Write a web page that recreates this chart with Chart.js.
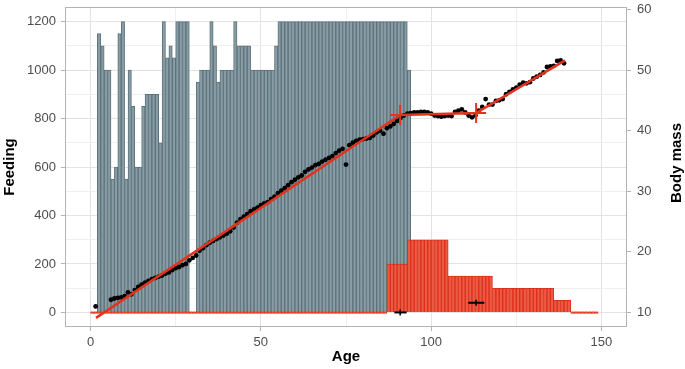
<!DOCTYPE html>
<html>
<head>
<meta charset="utf-8">
<script src="https://cdn.jsdelivr.net/npm/chart.js@4/dist/chart.umd.min.js"></script>
<style>
	html, body { margin: 0; padding: 0; background: #fff; }
	#wrap { width: 685px; height: 369px; }
</style>
</head>
<body>
<div id="wrap"><canvas id="chart" width="685" height="369"></canvas></div>
<script>
"use strict";

// Daily feeding (grey bars), one value per day starting at day 2 (null = no record)
const feedStart = 2;
const feedValues = [
	1150, 1100, 1000, 1000, 550, 600, 1150, 1200, 550, 1000,
	850, 600, 600, 850, 900, 900, 900, 900, 700, 1200,
	1050, 1100, 1050, 1200, 1200, 1200, 1200, null, null, 950,
	1000, 1000, 1000, 1200, 1100, 950, 1000, 1000, 1000, 1000,
	1200, 1100, 1100, 1100, 1100, 1000, 1000, 1000, 1000, 1000,
	1000, 1000, 1100, 1200, 1200, 1200, 1200, 1200, 1200, 1200,
	1200, 1200, 1200, 1200, 1200, 1200, 1200, 1200, 1200, 1200,
	1200, 1200, 1200, 1200, 1200, 1200, 1200, 1200, 1200, 1200,
	1200, 1200, 1200, 1200, 1200, 1200, 1200, 1200, 1200, 1200,
	1200, 1000,
];

// Second feeding series (red bars), one value per day starting at day 0
const redStart = 0;
const redValues = [
	0, 0, 0, 0, 0, 0, 0, 0, 0, 0, 0, 0, 0, 0, 0, 0, 0, 0, 0, 0,
	0, 0, 0, 0, 0, 0, 0, 0, 0, 0, 0, 0, 0, 0, 0, 0, 0, 0, 0, 0,
	0, 0, 0, 0, 0, 0, 0, 0, 0, 0, 0, 0, 0, 0, 0, 0, 0, 0, 0, 0,
	0, 0, 0, 0, 0, 0, 0, 0, 0, 0, 0, 0, 0, 0, 0, 0, 0, 0, 0, 0,
	0, 0, 0, 0, 0, 0, 0, 200, 200, 200, 200, 200, 200, 300, 300, 300, 300, 300, 300, 300,
	300, 300, 300, 300, 300, 150, 150, 150, 150, 150, 150, 150, 150, 150, 150, 150, 150, 150, 100, 100,
	100, 100, 100, 100, 100, 100, 100, 100, 100, 100, 100, 100, 100, 100, 100, 100, 50, 50, 50, 50,
	50, 0, 0, 0, 0, 0, 0, 0, 0,
];

// Body mass measurements (black points)
const massAges = [
	1.5, 6, 7, 8, 9, 10, 11, 12, 13, 14, 15, 16, 17, 18, 19, 20, 21, 22, 23, 24,
	25, 26, 27, 28, 29, 30, 31, 32, 33, 34, 35, 36, 37, 38, 39, 40, 41, 42, 43, 44,
	45, 46, 47, 48, 49, 50, 51, 52, 53, 54, 55, 56, 57, 58, 59, 60, 61, 62, 63, 64,
	65, 66, 67, 68, 69, 70, 71, 72, 73, 74, 75, 76, 77, 78, 79, 80, 81, 82, 83, 84,
	85, 86, 87, 88, 89, 90, 91, 92, 93, 94, 95, 96, 97, 98, 99, 100, 101, 102, 103, 104,
	105, 106, 107, 108, 109, 110, 111, 112, 113, 114, 115, 116, 117, 118, 119, 120, 121, 122, 123, 124,
	125, 126, 127, 128, 129, 130, 131, 132, 133, 134, 135, 136, 137, 138, 139,
];
const massValues = [
	11.0, 12.1, 12.3, 12.4, 12.5, 12.7, 13.3, 13.0, 13.7, 14.2, 14.6, 14.9, 15.2, 15.5, 15.7, 15.9, 16.1, 16.4, 16.6, 17.0,
	17.3, 17.5, 17.8, 18.0, 18.6, 19.0, 19.4, 20.2, 20.6, 21.1, 21.5, 21.8, 22.1, 22.4, 22.7, 23.0, 23.4, 24.0, 24.8, 25.4,
	25.8, 26.2, 26.7, 27.0, 27.3, 27.7, 28.0, 28.2, 28.7, 29.1, 29.7, 30.1, 30.5, 31.0, 31.5, 31.9, 32.3, 32.6, 33.2, 33.6,
	33.9, 34.3, 34.5, 34.9, 35.2, 35.5, 35.8, 36.3, 36.7, 37.0, 34.4, 37.6, 38.0, 38.3, 38.5, 38.6, 38.7, 38.8, 39.2, 39.7,
	40.0, 39.5, 40.4, 40.7, 41.1, 41.6, 42.1, 42.5, 42.8, 42.9, 43.0, 43.0, 43.1, 43.1, 43.0, 42.8, 42.5, 42.4, 42.3, 42.4,
	42.5, 42.4, 43.1, 43.3, 43.5, 43.0, 42.5, 42.2, 42.5, 43.3, 43.9, 45.2, 44.3, 44.3, 44.9, 45.0, 45.2, 46.0, 46.4, 46.8,
	47.1, 47.6, 47.9, 47.8, 48.0, 48.6, 48.9, 49.2, 49.6, 50.5, 50.6, 50.7, 51.5, 51.6, 51.1,
];

// Piecewise fit of body mass, breakpoints and their intervals
const fitAges = [1.6, 90.9, 113.2, 139.3];
const fitMass = [9.1, 42.6, 42.9, 51.6];
const breakAges = [90.9, 113.2];
const breakMass = [42.6, 42.9];
const breakLow = [89.2, 110.9];
const breakHigh = [92.8, 115.6];
const breakFeedLevel = [0, 40];

// Tick labels
const ageTicks = [0, 25, 50, 75, 100, 125, 150];
const feedTicks = [0, 100, 200, 300, 400, 500, 600, 700, 800, 900, 1000, 1100, 1200];
const massTicks = [10, 20, 30, 40, 50, 60];

const fontFamily = "'Liberation Sans', Arial, sans-serif";
const frameColor = "#b3b3b3";
const gridMajor = "#e3e3e3";
const gridMinor = "#efefef";
const tickText = "#4d4d4d";
const fitRed = "#e2331f";
const hidden = "rgba(0,0,0,0)";

function dailyBars(start, values) {
	return values
		.map(function (v, i) { return { x: start + i + 0.5, y: v }; })
		.filter(function (d) { return d.y !== null; });
}

const datasets = [
	{
		type: "bar",
		data: dailyBars(feedStart, feedValues),
		backgroundColor: "#889ca4",
		borderColor: "#5c727c",
		borderWidth: 1,
		barPercentage: 1,
		categoryPercentage: 1,
		grouped: false,
		yAxisID: "y",
		order: 6,
	},
	{
		type: "bar",
		data: dailyBars(redStart, redValues),
		backgroundColor: "#ec5a44",
		borderColor: "#dc301c",
		borderWidth: 1,
		barPercentage: 1,
		categoryPercentage: 1,
		grouped: false,
		minBarLength: 2,
		yAxisID: "y",
		order: 5,
	},
	{
		type: "line",
		data: massAges.map(function (a, i) { return { x: a, y: massValues[i] }; }),
		showLine: false,
		pointRadius: 2.4,
		pointBackgroundColor: "#000",
		pointBorderWidth: 0,
		yAxisID: "y2",
		order: 4,
	},
	{
		type: "line",
		data: fitAges.map(function (a, i) { return { x: a, y: fitMass[i] }; }),
		borderColor: fitRed,
		borderWidth: 2.5,
		pointRadius: 0,
		yAxisID: "y2",
		order: 3,
	},
	{
		type: "line",
		data: breakAges.map(function (a, i) { return { x: a, y: breakMass[i] }; }),
		showLine: false,
		pointStyle: "cross",
		pointRadius: 10,
		pointBorderColor: fitRed,
		pointBorderWidth: 2,
		yAxisID: "y2",
		order: 2,
	},
];

// Black interval bars for the breakpoints
breakAges.forEach(function (a, i) {
	datasets.push({
		type: "line",
		data: [
			{ x: breakLow[i], y: breakFeedLevel[i] },
			{ x: a, y: breakFeedLevel[i] },
			{ x: breakHigh[i], y: breakFeedLevel[i] },
		],
		borderColor: "#000",
		borderWidth: 2,
		pointStyle: "line",
		pointRotation: 90,
		pointRadius: [0, 3, 0],
		pointBorderColor: "#000",
		pointBorderWidth: 1.5,
		yAxisID: "y",
		order: 1,
	});
});

// Panel border on all four sides and the right-hand axis title (read bottom to top)
const frameAndTitle = {
	id: "frameAndTitle",
	afterDraw(chart) {
		const ctx = chart.ctx;
		const a = chart.chartArea;
		ctx.save();
		ctx.strokeStyle = frameColor;
		ctx.lineWidth = 1;
		ctx.strokeRect(a.left + 0.5, a.top + 0.5, a.right - a.left - 1, a.bottom - a.top - 1);
		ctx.translate(677, (a.top + a.bottom) / 2 - 4);
		ctx.rotate(-Math.PI / 2);
		ctx.font = "bold 15px " + fontFamily;
		ctx.fillStyle = "#000";
		ctx.textAlign = "center";
		ctx.textBaseline = "middle";
		ctx.fillText("Body mass", 0, 0);
		ctx.restore();
	},
};

function noVerticalPadding(s) {
	s.paddingTop = 0;
	s.paddingBottom = 0;
}

new Chart(document.getElementById("chart"), {
	type: "bar",
	data: { datasets: datasets },
	plugins: [frameAndTitle],
	options: {
		responsive: false,
		animation: false,
		layout: { autoPadding: false, padding: { top: 7, left: 0, right: 0, bottom: 0 } },
		plugins: { legend: { display: false }, tooltip: { enabled: false } },
		scales: {
			x: {
				type: "linear",
				min: -7.5,
				max: 157.5,
				offset: false,
				afterBuildTicks: function (s) { s.ticks = ageTicks.map(function (v) { return { value: v }; }); },
				afterFit: function (s) { s.height = 42; s.paddingLeft = 0; s.paddingRight = 0; },
				border: { display: false },
				grid: {
					offset: false,
					color: function (c) { return c.tick && c.tick.value % 50 === 0 ? gridMajor : gridMinor; },
					tickColor: function (c) { return c.tick && c.tick.value % 50 === 0 ? frameColor : hidden; },
					tickLength: 4,
				},
				ticks: {
					autoSkip: false,
					maxRotation: 0,
					padding: 4,
					color: tickText,
					font: { family: fontFamily, size: 13 },
					callback: function (v) { return v % 50 === 0 ? v : ""; },
				},
				title: {
					display: true,
					text: "Age",
					color: "#000",
					font: { family: fontFamily, size: 15, weight: "bold" },
					padding: { top: 0, bottom: 3 },
				},
			},
			y: {
				position: "left",
				min: -60,
				max: 1260,
				afterBuildTicks: function (s) { s.ticks = feedTicks.map(function (v) { return { value: v }; }); },
				afterFit: function (s) { s.width = 65; noVerticalPadding(s); },
				border: { display: false },
				grid: {
					color: function (c) { return c.tick && c.tick.value % 200 === 0 ? gridMajor : gridMinor; },
					tickColor: function (c) { return c.tick && c.tick.value % 200 === 0 ? frameColor : hidden; },
					tickLength: 4,
				},
				ticks: {
					autoSkip: false,
					padding: 5,
					color: tickText,
					font: { family: fontFamily, size: 13 },
					callback: function (v) { return v % 200 === 0 ? v : ""; },
				},
				title: {
					display: true,
					text: "Feeding",
					color: "#000",
					font: { family: fontFamily, size: 15, weight: "bold" },
					padding: { top: 1, bottom: 0 },
				},
			},
			y2: {
				position: "right",
				min: 7.6,
				max: 60.4,
				afterBuildTicks: function (s) { s.ticks = massTicks.map(function (v) { return { value: v }; }); },
				afterFit: function (s) { s.width = 58; noVerticalPadding(s); },
				border: { display: false },
				grid: { drawOnChartArea: false, tickColor: frameColor, tickLength: 4 },
				ticks: {
					autoSkip: false,
					padding: 6,
					color: tickText,
					font: { family: fontFamily, size: 13 },
				},
			},
		},
	},
});
</script>
</body>
</html>
